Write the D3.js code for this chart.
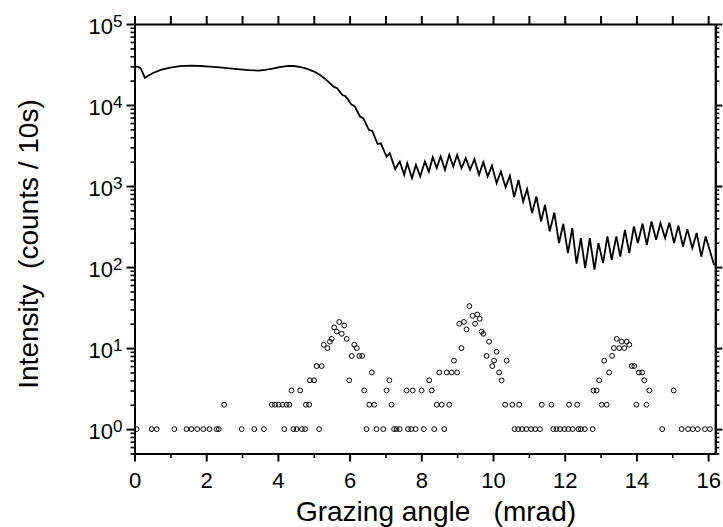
<!DOCTYPE html>
<html>
<head>
<meta charset="utf-8">
<script src="https://cdn.jsdelivr.net/npm/d3@7"></script>
<style>
  body { margin: 0; background: #fff; }
  svg text { font-family: "Liberation Sans", Arial, Helvetica, sans-serif; fill: #000; }
</style>
</head>
<body>
<svg id="chart" width="723" height="527"></svg>
<script>
// Specular reflectivity scan (solid line): grazing angle in mrad, counts per 10 s
const reflAngle = [
  0.00, 0.10, 0.17, 0.22, 0.29, 0.40, 0.55, 0.75, 1.00, 1.27, 1.60, 1.83, 2.10, 2.38, 2.65,
  2.94, 3.20, 3.45, 3.65, 3.85, 4.05, 4.29, 4.45, 4.60, 4.75, 4.89, 5.03, 5.17, 5.30,
  5.40, 5.56, 5.65, 5.80, 5.89, 6.05, 6.14, 6.29, 6.38, 6.54, 6.63, 6.78, 6.87, 7.03, 7.12,
  7.27, 7.40, 7.52, 7.61, 7.74, 7.85, 7.97, 8.10, 8.21, 8.32, 8.43, 8.54, 8.66, 8.78, 8.89,
  9.00, 9.12, 9.24, 9.36, 9.48, 9.61, 9.73, 9.85, 9.97, 10.10, 10.22, 10.35, 10.47, 10.59,
  10.71, 10.84, 10.95, 11.09, 11.21, 11.34, 11.45, 11.58, 11.71, 11.84, 11.96, 12.09, 12.21,
  12.33, 12.45, 12.57, 12.70, 12.83, 12.94, 13.07, 13.19, 13.31, 13.44, 13.55, 13.68, 13.80,
  13.93, 14.04, 14.17, 14.29, 14.42, 14.55, 14.67, 14.80, 14.92, 15.05, 15.17, 15.30, 15.42,
  15.56, 15.68, 15.81, 15.93, 16.17
];
const reflCounts = [
  29800, 29600, 28500, 25500, 21600, 23300, 25200, 27300, 29000, 30200, 30600, 30300, 29800, 29200, 28400,
  27600, 27000, 26600, 27100, 28100, 29300, 30400, 30300, 29600, 28600, 27200, 25600, 23600, 21300,
  19600, 16750, 16100, 13270, 12820, 10160, 9700, 7210, 6890, 4910, 4820, 3300, 3370, 2310, 2540,
  1620, 2005, 1374, 1915, 1251, 1825, 1310, 2005, 1510, 2270, 1663, 2312, 1585, 2425, 1741,
  2425, 1663, 2207, 1585, 2146, 1374, 1971, 1310, 1790, 1087, 1510, 969, 1336, 730,
  1192, 644, 916, 463, 742, 365, 587, 275, 471, 198, 342, 149, 303,
  110, 228, 97, 228, 93, 198, 112, 239, 123, 239, 135, 288, 149,
  317, 198, 342, 188, 365, 217, 349, 228, 355, 198, 323, 179, 294,
  171, 263, 135, 239, 105
];

// Fluorescence signal (open circles): grazing angle in mrad, counts per 10 s
const fluoAngle = [
  0.06, 0.48, 0.62, 1.11, 1.45, 1.59, 1.75, 1.92, 2.09, 2.29, 2.35, 2.50, 2.99, 3.34, 3.61,
  3.83, 3.92, 4.02, 4.13, 4.18, 4.24, 4.32, 4.38, 4.43, 4.52, 4.62, 4.67, 4.76, 4.78, 4.87,
  4.89, 5.01, 5.08, 5.15, 5.22, 5.28, 5.38, 5.45, 5.50, 5.57, 5.64, 5.71, 5.78, 5.85, 5.92,
  5.99, 6.06, 6.13, 6.20, 6.27, 6.35, 6.41, 6.47, 6.55, 6.62, 6.69, 6.75, 6.94, 7.03, 7.11,
  7.17, 7.24, 7.31, 7.40, 7.59, 7.63, 7.72, 7.76, 7.84, 8.01, 8.07, 8.22, 8.29, 8.36, 8.43,
  8.50, 8.57, 8.64, 8.71, 8.78, 8.85, 8.91, 9.00, 9.06, 9.12, 9.19, 9.26, 9.34, 9.43, 9.50,
  9.56, 9.63, 9.68, 9.73, 9.82, 9.89, 9.98, 10.03, 10.10, 10.17, 10.24, 10.34, 10.38, 10.54,
  10.60, 10.70, 10.73, 10.81, 10.93, 11.06, 11.18, 11.31, 11.36, 11.63, 11.68, 11.77, 11.87,
  11.99, 12.10, 12.12, 12.22, 12.35, 12.38, 12.45, 12.56, 12.78, 12.80, 12.89, 12.96, 13.03,
  13.10, 13.17, 13.24, 13.32, 13.37, 13.45, 13.52, 13.59, 13.66, 13.73, 13.80, 13.87, 13.94,
  14.00, 14.07, 14.16, 14.22, 14.28, 14.36, 14.72, 15.04, 15.26, 15.44, 15.57, 15.71, 15.91,
  16.05
];
const fluoCounts = [
  1, 1, 1, 1, 1, 1, 1, 1, 1, 1, 1, 2, 1, 1, 1,
  2, 2, 2, 2, 1, 2, 2, 3, 1, 1, 3, 1, 1, 2, 2,
  4, 4, 6, 1, 6, 11, 10, 12, 13, 18, 16, 21, 15, 19, 13,
  4, 8, 11, 10, 8, 8, 3, 1, 2, 5, 2, 1, 1, 3, 4,
  2, 1, 1, 1, 3, 1, 1, 3, 1, 3, 1, 4, 3, 1, 2,
  5, 2, 1, 5, 2, 5, 7, 5, 20, 10, 21, 17, 33, 25, 20,
  26, 23, 16, 15, 8, 12, 6, 7, 9, 5, 4, 2, 7, 2,
  1, 1, 2, 1, 1, 1, 1, 1, 2, 2, 1, 1, 1,
  1, 1, 2, 1, 2, 1, 1, 1, 1, 3, 3, 4, 2,
  7, 2, 5, 8, 10, 13, 10, 12, 10, 12, 11, 6, 6,
  2, 5, 5, 4, 2, 3, 1, 3, 1, 1, 1, 1, 1,
  1
];

// Axis ticks
const xMajorTicks = [0, 2, 4, 6, 8, 10, 12, 14, 16];
const xMinorTicks = [1, 3, 5, 7, 9, 11, 13, 15];
const xAllTicks = [0, 1, 2, 3, 4, 5, 6, 7, 8, 9, 10, 11, 12, 13, 14, 15, 16];
const yDecades = [1, 10, 100, 1000, 10000, 100000];
const yExponents = ["0", "1", "2", "3", "4", "5"];

const xTitle = "Grazing angle   (mrad)";
const yTitle = "Intensity  (counts / 10s)";

const svg = d3.select("#chart");
const plotLeft = 134.5, plotRight = 715.3, plotTop = 24, plotBottom = 453.5;

const x = d3.scaleLinear().domain([0, 16.2]).range([plotLeft, plotRight]);
const y = d3.scaleLog().domain([0.5, 1e5]).range([plotBottom, plotTop]);

// minor log ticks: 2..9 in every decade, plus 0.6..0.9 below 1
const yMinorTicks = [];
[0.1, 1, 10, 100, 1000, 10000].forEach(d => {
  for (let k = 2; k <= 9; k++) {
    const v = k * d;
    if (v >= 0.5 && v < 1e5) yMinorTicks.push(v);
  }
});

function styleAxis(g, tickWidth) {
  g.attr("font-family", null).attr("font-size", null);
  g.select(".domain").attr("stroke", "#000").attr("stroke-width", 2);
  g.selectAll(".tick line").attr("stroke", "#000").attr("stroke-width", tickWidth);
}

// bottom axis
svg.append("g").attr("transform", `translate(0,${plotBottom})`)
  .call(d3.axisBottom(x).tickValues(xMinorTicks).tickSize(4.5).tickSizeOuter(0).tickFormat(""))
  .call(g => styleAxis(g, 1.6));
const gx = svg.append("g").attr("transform", `translate(0,${plotBottom})`)
  .call(d3.axisBottom(x).tickValues(xMajorTicks).tickSize(8).tickSizeOuter(0).tickFormat(d3.format("d")))
  .call(g => styleAxis(g, 2));
gx.selectAll(".tick text").attr("y", 19).attr("font-size", 22);

// top axis
svg.append("g").attr("transform", `translate(0,${plotTop})`)
  .call(d3.axisTop(x).tickValues(xAllTicks).tickSize(8).tickSizeOuter(0).tickFormat(""))
  .call(g => styleAxis(g, 2));

// left axis
svg.append("g").attr("transform", `translate(${plotLeft},0)`)
  .call(d3.axisLeft(y).tickValues(yMinorTicks).tickSize(4).tickSizeOuter(0).tickFormat(""))
  .call(g => styleAxis(g, 1.6));
const gy = svg.append("g").attr("transform", `translate(${plotLeft},0)`)
  .call(d3.axisLeft(y).tickValues(yDecades).tickSize(8).tickSizeOuter(0).tickFormat(""))
  .call(g => styleAxis(g, 2));
gy.selectAll(".tick text")
  .attr("x", -12).attr("dy", 9).attr("font-size", 22).attr("text-anchor", "end")
  .each(function (d, i) {
    const t = d3.select(this);
    t.append("tspan").text("10");
    t.append("tspan").attr("dy", -7).attr("font-size", 17).text(yExponents[i]);
  });

// right axis
svg.append("g").attr("transform", `translate(${plotRight},0)`)
  .call(d3.axisRight(y).tickValues(yMinorTicks).tickSize(4).tickSizeOuter(0).tickFormat(""))
  .call(g => styleAxis(g, 1.6));
svg.append("g").attr("transform", `translate(${plotRight},0)`)
  .call(d3.axisRight(y).tickValues(yDecades).tickSize(7).tickSizeOuter(0).tickFormat(""))
  .call(g => styleAxis(g, 2));

// reflectivity curve
const line = d3.line()
  .x((d, i) => x(reflAngle[i]))
  .y((d, i) => y(reflCounts[i]));
svg.append("path")
  .datum(reflCounts)
  .attr("d", line)
  .attr("fill", "none")
  .attr("stroke", "#000")
  .attr("stroke-width", 1.8)
  .attr("stroke-linejoin", "miter");

// fluorescence points
svg.append("g").selectAll("circle")
  .data(fluoCounts)
  .join("circle")
  .attr("cx", (d, i) => x(fluoAngle[i]))
  .attr("cy", d => y(d))
  .attr("r", 2.4)
  .attr("fill", "none")
  .attr("stroke", "#000")
  .attr("stroke-width", 1);

// axis titles
svg.append("text")
  .attr("x", 436).attr("y", 521)
  .attr("text-anchor", "middle")
  .attr("font-size", 28)
  .style("white-space", "pre")
  .text(xTitle);

svg.append("text")
  .attr("transform", "translate(38,244) rotate(-90)")
  .attr("text-anchor", "middle")
  .attr("font-size", 28)
  .style("white-space", "pre")
  .text(yTitle);
</script>
</body>
</html>
